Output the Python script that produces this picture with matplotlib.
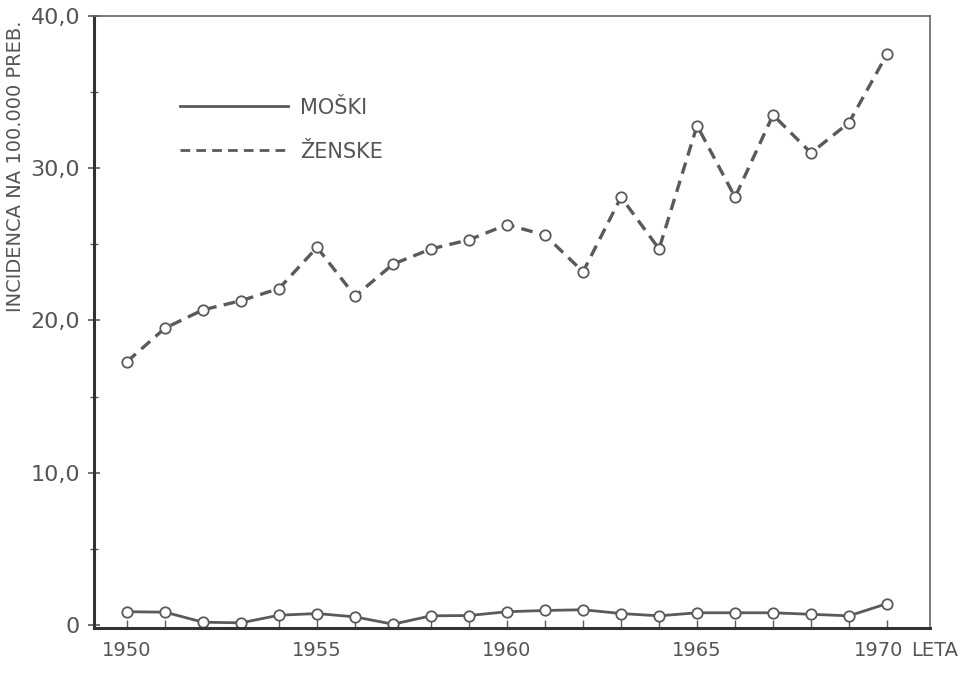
import numpy as np
import matplotlib.pyplot as plt
import matplotlib.transforms as mtransforms
from matplotlib.lines import Line2D

plt.rcParams['font.family'] = ['DejaVu Sans']

years = list(range(1950, 1971))
moski = [0.87, 0.84, 0.18, 0.14, 0.64, 0.75, 0.53, 0.05, 0.6, 0.62, 0.87,
         0.95, 1.0, 0.75, 0.6, 0.8, 0.8, 0.8, 0.7, 0.6, 1.4]
zenske = [17.3, 19.5, 20.7, 21.3, 22.1, 24.8, 21.6, 23.7, 24.7, 25.3, 26.3,
          25.6, 23.2, 28.1, 24.7, 32.8, 28.1, 33.5, 31.0, 33.0, 37.5]
yticks = [0, 10, 20, 30, 40]
ylabels = ['0', '10,0', '20,0', '30,0', '40,0']
xticks = [1950, 1955, 1960, 1965, 1970]

ink = '#5a5a5a'
txt = '#555555'

fig = plt.figure(figsize=(9.62, 6.73), dpi=100)
ax = fig.add_axes([94 / 962, 1 - 628 / 673, (930 - 94) / 962, (628 - 16) / 673])

ax.plot(years, moski, '-', color=ink, lw=2.0, marker='o', ms=7.5,
        mfc='white', mec=ink, mew=1.3)
ax.plot(years, zenske, '--', color=ink, lw=2.4, dashes=(3.5, 2.2), marker='o', ms=7.5,
        mfc='white', mec=ink, mew=1.3)

ax.set_xlim(1949.13, 1971.13)
ax.set_ylim(-0.2, 40)
ax.set_yticks(yticks)
ax.set_yticklabels(ylabels)
ax.set_yticks([5, 15, 25, 35], minor=True)
ax.set_xticks(xticks)
ax.set_xticks(years, minor=True)
ax.set_xticklabels(['1950', '1955', '1960', '1965', '1970'])

ax.tick_params(axis='y', which='major', direction='inout', length=8, width=1.2,
               colors=ink, labelsize=16, labelcolor=txt, pad=6)
ax.tick_params(axis='y', which='minor', direction='inout', length=6, width=1, colors=ink)
ax.tick_params(axis='x', which='both', direction='in', length=6, width=1,
               colors=ink, labelsize=14, labelcolor=txt, pad=9)

# nudge the last year label left so it clears "LETA"
last = ax.get_xticklabels()[-1]
last.set_transform(last.get_transform() + mtransforms.ScaledTranslation(-6 / 72, 0, fig.dpi_scale_trans))

for s in ['left', 'bottom']:
    ax.spines[s].set_linewidth(2.2)
    ax.spines[s].set_color('#333333')
for s in ['top', 'right']:
    ax.spines[s].set_linewidth(1.2)
    ax.spines[s].set_color('#666666')

ax.set_ylabel('INCIDENCA NA 100.000 PREB.', fontsize=14, color=txt)
ax.yaxis.set_label_coords(-0.082, 0.755)
fig.text(958 / 962, 1 - 651 / 673, 'LETA', ha='right', va='center',
         fontsize=14, color=txt)

handles = [Line2D([], [], color=ink, lw=2.0, ls='-'),
           Line2D([], [], color=ink, lw=2.0, ls='--', dashes=(3.5, 2.2))]
ax.legend(handles, ['MOŠKI', 'ŽENSKE'], loc='upper left', bbox_to_anchor=(0.08, 0.897),
          frameon=False, handlelength=5.2, handletextpad=0.6, labelspacing=1.15,
          fontsize=15, labelcolor=txt)

fig.savefig('out.png', dpi=100, facecolor='white')
